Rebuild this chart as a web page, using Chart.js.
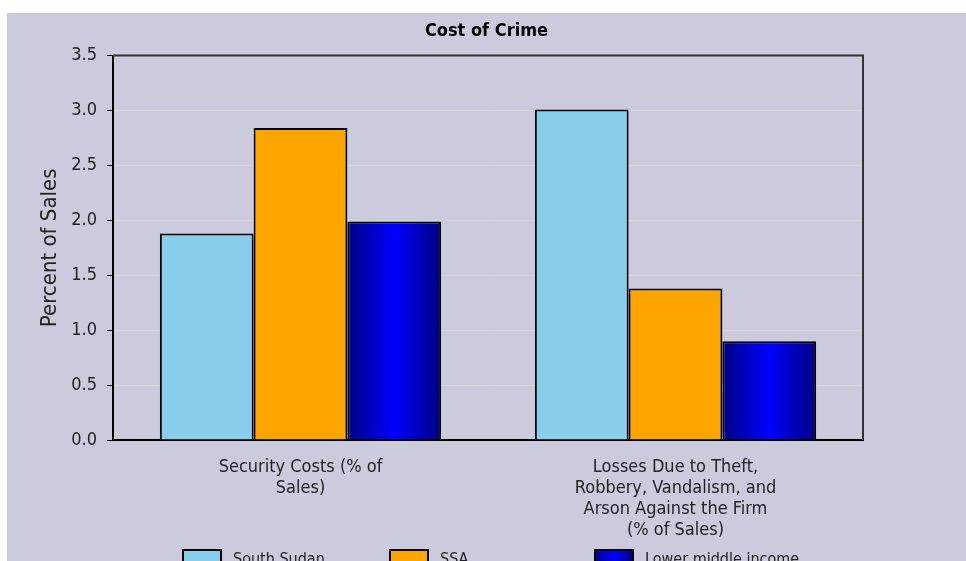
<!DOCTYPE html>
<html>
<head>
<meta charset="utf-8">
<script src="https://cdn.jsdelivr.net/npm/chart.js@4.4.1/dist/chart.umd.min.js"></script>
<style>
    html, body { margin: 0; padding: 0; background: #ffffff; overflow: hidden; }
    #wrap { position: absolute; left: 7px; top: 13px; width: 959px; height: 580px; background: #cbcbdd; }
</style>
</head>
<body>
<div id="wrap"><canvas id="graphCanvas" width="959" height="580"></canvas></div>
<script>
var categories = [
    ['Security Costs (% of', 'Sales)'],
    ['Losses Due to Theft,', 'Robbery, Vandalism, and', 'Arson Against the Firm', '(% of Sales)']
];
var seriesNames = ['South Sudan', 'SSA', 'Lower middle income'];
var southSudan = [1.88, 3.01];
var ssa = [2.84, 1.38];
var lowerMiddle = [1.99, 0.90];
var yTicks = [0, 0.5, 1.0, 1.5, 2.0, 2.5, 3.0, 3.5];

var FONT = "'Liberation Sans Narrow', 'Arial Narrow', 'DejaVu Sans Condensed', 'Liberation Sans', sans-serif";

function blueGradient(ctx, x0, x1) {
    var g = ctx.createLinearGradient(x0, 0, x1, 0);
    g.addColorStop(0, '#000082');
    g.addColorStop(0.5, '#0000ff');
    g.addColorStop(1, '#000082');
    return g;
}

function lowerMiddleFill(context) {
    var chart = context.chart;
    var xs = chart.scales.x;
    if (!xs || !chart.chartArea) return '#0000cc';
    var center = xs.getPixelForValue(context.dataIndex);
    var w = (xs.width / categories.length) * 0.75 / 3;
    return blueGradient(chart.ctx, center + w / 2, center + w * 1.5);
}

var framePlugin = {
    id: 'frame',
    afterDatasetsDraw: function (chart) {
        var a = chart.chartArea;
        var ctx = chart.ctx;
        ctx.save();
        ctx.strokeStyle = '#333333';
        ctx.lineWidth = 2;
        ctx.beginPath();
        ctx.moveTo(a.left, a.top);
        ctx.lineTo(a.right, a.top);
        ctx.lineTo(a.right, a.bottom);
        ctx.stroke();
        ctx.restore();
    },
    afterDraw: function (chart) {
        // legend row along the bottom (cut off by the window, as in the source)
        var ctx = chart.ctx;
        var boxX = [176, 383, 588];
        var top = 537;
        ctx.save();
        ctx.font = '16px ' + FONT;
        ctx.textBaseline = 'top';
        for (var i = 0; i < seriesNames.length; i++) {
            var ds = chart.data.datasets[i];
            ctx.fillStyle = i === 2 ? blueGradient(ctx, boxX[i], boxX[i] + 38) : ds.backgroundColor;
            ctx.fillRect(boxX[i], top, 38, 16);
            ctx.strokeStyle = '#000000';
            ctx.lineWidth = 2;
            ctx.strokeRect(boxX[i], top, 38, 16);
            ctx.fillStyle = '#222222';
            ctx.fillText(seriesNames[i], boxX[i] + 50, top + 2);
        }
        ctx.restore();
    }
};

var chartdata = {
    labels: categories,
    datasets: [
        { label: seriesNames[0], backgroundColor: '#87ceeb', data: southSudan },
        { label: seriesNames[1], backgroundColor: '#ffa500', data: ssa },
        { label: seriesNames[2], backgroundColor: lowerMiddleFill, data: lowerMiddle }
    ]
};

for (var d = 0; d < chartdata.datasets.length; d++) {
    chartdata.datasets[d].borderColor = '#000000';
    chartdata.datasets[d].borderWidth = 2;
    chartdata.datasets[d].categoryPercentage = 0.75;
    chartdata.datasets[d].barPercentage = 1.0;
}

var barGraph = new Chart(document.getElementById('graphCanvas'), {
    type: 'bar',
    data: chartdata,
    plugins: [framePlugin],
    options: {
        responsive: false,
        animation: false,
        devicePixelRatio: 1,
        layout: { padding: 0 },
        plugins: {
            legend: { display: false },
            tooltip: { enabled: false },
            title: {
                display: true,
                text: 'Cost of Crime',
                color: '#000000',
                font: { family: FONT, size: 18, weight: 'bold', lineHeight: 1.2 },
                padding: { top: 8, bottom: 13 }
            }
        },
        scales: {
            x: {
                grid: { display: false, drawTicks: false },
                border: { color: '#000000', width: 2 },
                ticks: {
                    color: '#222222',
                    padding: 17,
                    maxRotation: 0,
                    autoSkip: false,
                    font: { family: FONT, size: 18, lineHeight: '21px' }
                },
                afterFit: function (scale) { scale.height = 153; }
            },
            y: {
                min: 0,
                max: 3.5,
                afterBuildTicks: function (scale) {
                    scale.ticks = yTicks.map(function (v) { return { value: v }; });
                },
                grid: { color: '#d6d6d6', lineWidth: 1, tickColor: '#000000', tickLength: 6 },
                border: { color: '#000000', width: 2 },
                ticks: {
                    color: '#222222',
                    padding: 10,
                    font: { family: FONT, size: 18 },
                    callback: function (v) { return v.toFixed(1); }
                },
                title: {
                    display: true,
                    text: 'Percent of Sales',
                    color: '#222222',
                    font: { family: FONT, size: 22, lineHeight: 1.2 },
                    padding: { top: 30, bottom: 0 }
                },
                afterFit: function (scale) { scale.width = 106; }
            },
            // empty right-hand axis that only reserves the margin beside the plot
            yRight: {
                position: 'right',
                display: true,
                grid: { display: false, drawTicks: false },
                border: { display: false },
                ticks: { display: false },
                afterFit: function (scale) { scale.width = 103; }
            }
        }
    }
});
</script>
</body>
</html>
